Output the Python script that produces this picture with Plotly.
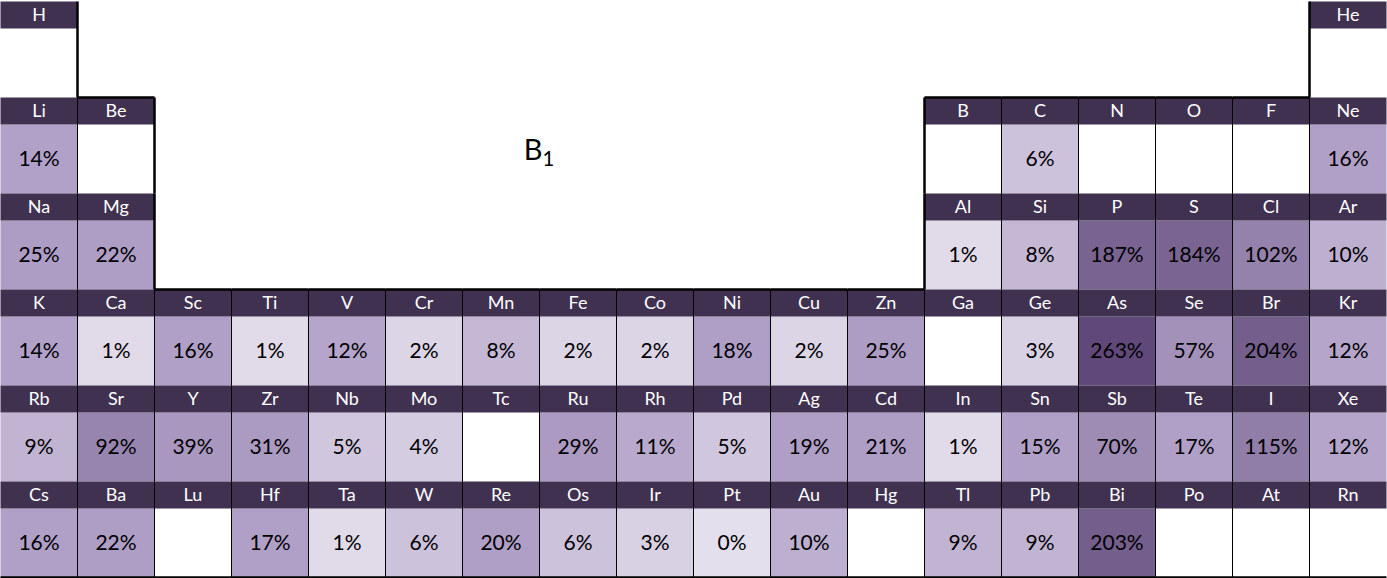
import plotly.graph_objects as go
import numpy as np

# ---------------- data ----------------
N = None
period1_symbols = ["H"] + [""] * 16 + ["He"]
period2_symbols = ["Li", "Be"] + [""] * 10 + ["B", "C", "N", "O", "F", "Ne"]
period3_symbols = ["Na", "Mg"] + [""] * 10 + ["Al", "Si", "P", "S", "Cl", "Ar"]
period4_symbols = ["K", "Ca", "Sc", "Ti", "V", "Cr", "Mn", "Fe", "Co", "Ni", "Cu", "Zn",
                   "Ga", "Ge", "As", "Se", "Br", "Kr"]
period5_symbols = ["Rb", "Sr", "Y", "Zr", "Nb", "Mo", "Tc", "Ru", "Rh", "Pd", "Ag", "Cd",
                   "In", "Sn", "Sb", "Te", "I", "Xe"]
period6_symbols = ["Cs", "Ba", "Lu", "Hf", "Ta", "W", "Re", "Os", "Ir", "Pt", "Au", "Hg",
                   "Tl", "Pb", "Bi", "Po", "At", "Rn"]

period1_values = [N] * 18
period2_values = [14, N] + [N] * 10 + [N, 6, N, N, N, 16]
period3_values = [25, 22] + [N] * 10 + [1, 8, 187, 184, 102, 10]
period4_values = [14, 1, 16, 1, 12, 2, 8, 2, 2, 18, 2, 25, N, 3, 263, 57, 204, 12]
period5_values = [9, 92, 39, 31, 5, 4, N, 29, 11, 5, 19, 21, 1, 15, 70, 17, 115, 12]
period6_values = [16, 22, N, 17, 1, 6, 20, 6, 3, 0, 10, N, 9, 9, 203, N, N, N]

title_text = "B<sub>1</sub>"

symbols = [period1_symbols, period2_symbols, period3_symbols,
           period4_symbols, period5_symbols, period6_symbols]
values = [period1_values, period2_values, period3_values,
          period4_values, period5_values, period6_values]

# ---------------- styling ----------------
HEADER_COLOR = "#403151"
LOW, MID, HIGH = "#E4DFEC", "#B1A0C7", "#60497A"
FONT = "Lato"
HF = 26.5 / 96.0          # header fraction of a row
W, H = 1387, 578
COL_PX, ROW_PX, TOP_PX, LEFT_PX = 77.0, 96.0, 1.5, 0.5

nrows, ncols = len(symbols), len(symbols[0])

all_vals = [v for row in values for v in row if v is not None]
vmin, vmax, vmed = min(all_vals), max(all_vals), float(np.median(all_vals))
mid_pos = (vmed - vmin) / (vmax - vmin)
colorscale = [[0, LOW], [mid_pos, MID], [1, HIGH]]

# brick edges: alternating header / body bands
y_edges = []
for p in range(nrows):
    y_edges += [p, p + HF]
y_edges.append(nrows)
x_edges = list(range(ncols + 1))

z_body, t_body, z_head, t_head, z_white = [], [], [], [], []
for p in range(nrows):
    z_head.append([1 if s else None for s in symbols[p]])
    t_head.append([s for s in symbols[p]])
    z_body.append([None] * ncols)
    t_body.append([""] * ncols)
    z_white.append([None] * ncols)
    z_head.append([None] * ncols)
    t_head.append([""] * ncols)
    z_body.append([v for v in values[p]])
    t_body.append([f"{v}%" if v is not None else "" for v in values[p]])
    z_white.append([1 if s else None for s in symbols[p]])

fig = go.Figure()
fig.add_trace(go.Heatmap(x=x_edges, y=y_edges, z=z_white,
                         colorscale=[[0, "white"], [1, "white"]], zmin=0, zmax=1,
                         showscale=False, hoverinfo="skip"))
fig.add_trace(go.Heatmap(x=x_edges, y=y_edges, z=z_body, text=t_body,
                         texttemplate="%{text}",
                         textfont=dict(family=FONT, size=21, color="black"),
                         colorscale=colorscale, zmin=vmin, zmax=vmax,
                         showscale=False, hoverinfo="skip"))
fig.add_trace(go.Heatmap(x=x_edges, y=y_edges, z=z_head, text=t_head,
                         texttemplate="%{text}",
                         textfont=dict(family=FONT, size=18, color="white"),
                         colorscale=[[0, HEADER_COLOR], [1, HEADER_COLOR]], zmin=0, zmax=1,
                         showscale=False, hoverinfo="skip"))


def exists(r, c):
    return 0 <= r < nrows and 0 <= c < ncols and bool(symbols[r][c])


THIN, THICK = 1, 2.5
shapes = []
for r in range(nrows):
    for c in range(ncols):
        if not exists(r, c):
            continue
        if c + 1 < ncols:
            w = THIN if exists(r, c + 1) else THICK
            shapes.append(dict(type="line", x0=c + 1, x1=c + 1, y0=r, y1=r + 1,
                               line=dict(color="black", width=w)))
        if c - 1 >= 0 and not exists(r, c - 1):
            shapes.append(dict(type="line", x0=c, x1=c, y0=r, y1=r + 1,
                               line=dict(color="black", width=THICK)))
        if r - 1 >= 0 and not exists(r - 1, c):
            shapes.append(dict(type="line", x0=c, x1=c + 1, y0=r, y1=r,
                               line=dict(color="black", width=THICK)))
        if not exists(r + 1, c):
            shapes.append(dict(type="line", x0=c, x1=c + 1, y0=r + 1, y1=r + 1,
                               line=dict(color="black", width=THICK)))
for s in shapes:
    s.update(xref="x", yref="y", layer="above")

fig.update_layout(
    width=W, height=H,
    margin=dict(l=0, r=0, t=0, b=0),
    paper_bgcolor="white", plot_bgcolor="white",
    shapes=shapes,
    showlegend=False,
    title=dict(text=title_text, x=539 / W, y=1 - 150 / H,
               xanchor="center", yanchor="middle",
               font=dict(family=FONT, size=29, color="black")),
    xaxis=dict(range=[-LEFT_PX / COL_PX, (W - LEFT_PX) / COL_PX], visible=False,
               fixedrange=True),
    yaxis=dict(range=[(H - TOP_PX) / ROW_PX, -TOP_PX / ROW_PX], visible=False,
               fixedrange=True),
)

fig.write_html("out.html",
               config={"displayModeBar": False},
               post_script="document.body.style.margin='0';"
                           "document.body.style.overflow='hidden';")
